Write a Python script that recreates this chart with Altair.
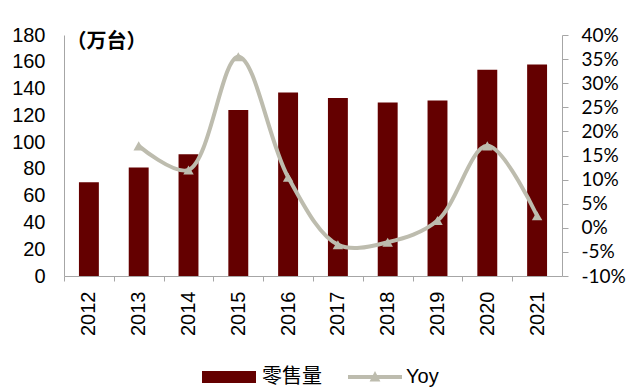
import altair as alt
import pandas as pd

years = ['2012', '2013', '2014', '2015', '2016', '2017', '2018', '2019', '2020', '2021']
sales = [70, 81, 91, 124, 137, 133, 129.5, 131, 154, 158]
yoy_years = ['2013', '2014', '2015', '2016', '2017', '2018', '2019', '2020', '2021']
yoy = [17.0, 12.0, 35.5, 10.5, -3.5, -3.0, 1.5, 17.0, 2.5]
left_ticks = list(range(0, 181, 20))
right_ticks = list(range(-10, 41, 5))

BAR = '#640000'
LINE = '#BDBCAE'
AXIS = '#A6A6A6'
LATIN = 'Liberation Sans, Noto Sans CJK SC'

bars_df = pd.DataFrame({'year': years, 'sales': sales, 's': ['零售量'] * len(years)})
line_df = pd.DataFrame({'year': yoy_years, 'yoy': yoy, 's': ['Yoy'] * len(yoy_years)})

step = 498 / 10.0

x = alt.X('year:N', sort=years,
          scale=alt.Scale(paddingInner=0.6, paddingOuter=0.3),
          axis=alt.Axis(title=None, labelAngle=-90, labelFontSize=20, labelFont=LATIN,
                        labelColor='black', domainColor=AXIS, tickColor=AXIS, tickSize=5,
                        tickOffset=-step / 2, labelOffset=step / 2, labelPadding=10,
                        grid=False))

bars = alt.Chart(bars_df).mark_bar().encode(
    x=x,
    y=alt.Y('sales:Q', scale=alt.Scale(domain=[0, 180], nice=False),
            axis=alt.Axis(title='（万台）', titleAngle=0, titleX=2, titleY=6,
                          titleAlign='left', titleBaseline='middle', titleFontSize=20,
                          titleFont='Noto Sans CJK SC', titleFontWeight='bold',
                          titleColor='black',
                          values=left_ticks, labelFontSize=20, labelFont=LATIN,
                          labelColor='black', tickSize=0, labelPadding=19,
                          domainColor=AXIS, grid=False)),
    color=alt.Color('s:N', scale=alt.Scale(domain=['零售量'], range=[BAR]),
                    legend=alt.Legend(title=None, orient='none', legendX=138, legendY=315,
                                      symbolType='M-1,-0.22H1V0.22H-1Z', symbolSize=2916,
                                      symbolStrokeWidth=0, labelFontSize=20,
                                      labelFont='Noto Sans CJK SC', labelColor='black',
                                      labelOffset=6, padding=0))
)

right_axis = alt.Axis(title=None, orient='right', values=right_ticks,
                      labelExpr="datum.value + '%'", labelFontSize=19, labelFont='Lato',
                      labelColor='black', tickSize=6, tickColor=AXIS, domainColor=AXIS,
                      labelPadding=13, grid=False)
yr = alt.Y('yoy:Q', scale=alt.Scale(domain=[-10, 40], nice=False), axis=right_axis)

line = alt.Chart(line_df).mark_line(interpolate='catmull-rom', strokeWidth=4).encode(
    x=alt.X('year:N', sort=years),
    y=yr,
    stroke=alt.Stroke('s:N', scale=alt.Scale(domain=['Yoy'], range=[LINE]),
                      legend=alt.Legend(title=None, orient='none', legendX=284, legendY=315,
                                        symbolType='M-1,-0.07H1V0.07H-1Z M-0.2,0.17L0,-0.22L0.2,0.17Z',
                                        symbolSize=2916, symbolFillColor=LINE,
                                        symbolStrokeWidth=0, labelFontSize=20,
                                        labelFont=LATIN, labelColor='black',
                                        labelOffset=4, padding=0))
)

pts = alt.Chart(line_df).mark_point(shape='triangle-up', filled=True, size=110,
                                    color=LINE, opacity=1).encode(
    x=alt.X('year:N', sort=years),
    y=yr
)

right = alt.layer(line, pts)

chart = alt.layer(bars, right).resolve_scale(y='independent').properties(
    width=498, height=241,
    padding={'left': 56, 'top': 27, 'right': 70, 'bottom': 115},
    autosize=alt.AutoSizeParams(type='none')
).configure_view(stroke=None)

chart.save('out.html', embed_options={'renderer': 'svg', 'actions': False})
